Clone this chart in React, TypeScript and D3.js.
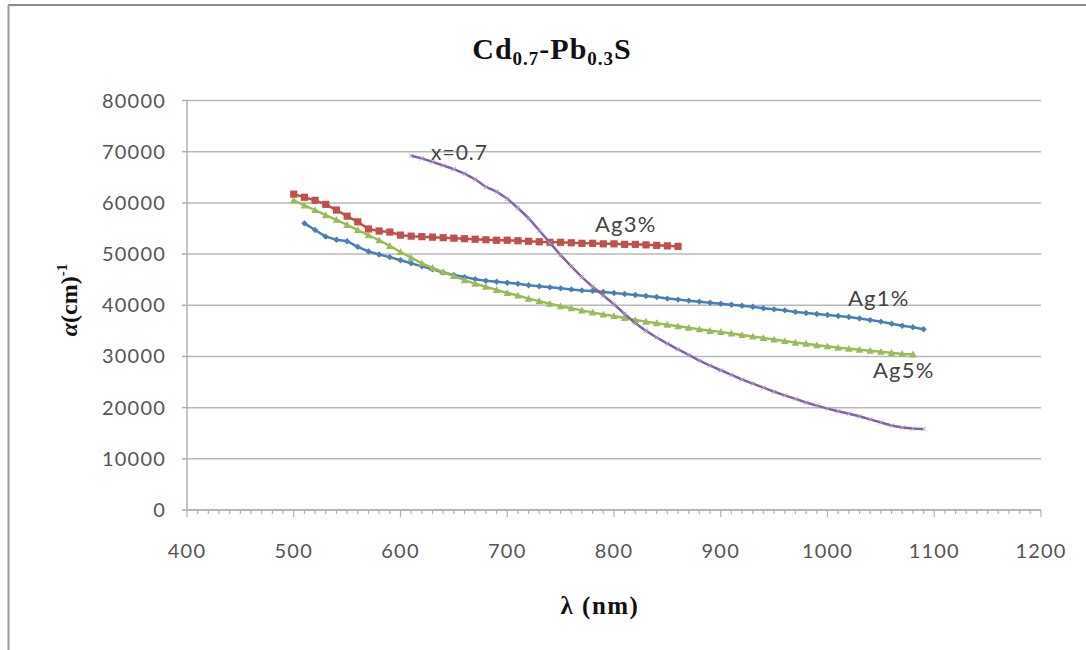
import React from "react";
import * as d3 from "d3";

const W = 1086;
const H = 650;

const ag1Lambda = [510,520,530,540,550,560,570,580,590,600,610,620,630,640,650,660,670,680,690,700,710,720,730,740,750,760,770,780,790,800,810,820,830,840,850,860,870,880,890,900,910,920,930,940,950,960,970,980,990,1000,1010,1020,1030,1040,1050,1060,1070,1080,1090];
const ag1Alpha = [56000,54700,53400,52800,52500,51400,50500,49900,49400,48800,48200,47600,47000,46400,45900,45500,45100,44800,44600,44400,44200,43900,43700,43500,43300,43100,42900,42800,42600,42400,42200,42000,41800,41600,41300,41100,40900,40700,40500,40300,40100,39900,39700,39400,39200,39000,38700,38500,38300,38100,37900,37700,37400,37100,36800,36400,36000,35700,35300];

const ag3Lambda = [500,510,520,530,540,550,560,570,580,590,600,610,620,630,640,650,660,670,680,690,700,710,720,730,740,750,760,770,780,790,800,810,820,830,840,850,860];
const ag3Alpha = [61700,61100,60500,59700,58600,57400,56300,54900,54500,54300,53700,53500,53400,53300,53200,53100,53000,52900,52800,52700,52700,52600,52500,52400,52300,52300,52200,52100,52100,52000,52000,51900,51900,51800,51700,51600,51500];

const ag5Lambda = [500,510,520,530,540,550,560,570,580,590,600,610,620,630,640,650,660,670,680,690,700,710,720,730,740,750,760,770,780,790,800,810,820,830,840,850,860,870,880,890,900,910,920,930,940,950,960,970,980,990,1000,1010,1020,1030,1040,1050,1060,1070,1080];
const ag5Alpha = [60500,59500,58600,57600,56700,55700,54700,53700,52700,51600,50400,49300,48200,47300,46500,45700,44900,44200,43600,43000,42400,41900,41300,40800,40300,39800,39400,39000,38600,38200,37900,37500,37100,36800,36500,36200,35900,35600,35300,35000,34800,34500,34200,33900,33600,33300,33000,32700,32500,32200,32000,31700,31500,31300,31100,30900,30700,30500,30400];

const x07Lambda = [610,620,630,640,650,660,670,680,690,700,710,720,730,740,750,760,770,780,790,800,810,820,830,840,850,860,870,880,890,900,910,920,930,940,950,960,970,980,990,1000,1010,1020,1030,1040,1050,1060,1070,1080,1090];
const x07Alpha = [69200,68700,68000,67300,66600,65700,64600,63100,62200,60800,59000,57000,54600,52200,49800,47600,45500,43600,41900,40200,38300,36500,35000,33700,32500,31400,30300,29200,28200,27300,26400,25500,24700,23900,23100,22400,21700,21000,20400,19800,19300,18800,18300,17700,17100,16500,16100,15900,15800];

const xTicks = [400,500,600,700,800,900,1000,1100,1200];
const yTicks = [0,10000,20000,30000,40000,50000,60000,70000,80000];

type Series = { name: string; lambda: number[]; alpha: number[]; color: string; marker: string };
const series: Series[] = [
  { name: "Ag1%", lambda: ag1Lambda, alpha: ag1Alpha, color: "#4a7ebb", marker: "diamond" },
  { name: "Ag3%", lambda: ag3Lambda, alpha: ag3Alpha, color: "#c0504d", marker: "square" },
  { name: "Ag5%", lambda: ag5Lambda, alpha: ag5Alpha, color: "#9bbb59", marker: "triangle" },
  { name: "x=0.7", lambda: x07Lambda, alpha: x07Alpha, color: "#8064a2", marker: "x" },
];

const left = 187, right = 1041, top = 100.5, bottom = 510;

export default function App() {
  const x = d3.scaleLinear().domain([400, 1200]).range([left, right]);
  const y = d3.scaleLinear().domain([0, 80000]).range([bottom, top]);
  const line = d3.line<[number, number]>().x(d => x(d[0])).y(d => y(d[1]));
  const minor = d3.range(400, 1201, 10);
  const tickFont = "Lato, 'Open Sans', sans-serif";
  const serif = "'Liberation Serif', 'DejaVu Serif', serif";

  const marker = (s: Series, cx: number, cy: number, k: number) => {
    if (s.marker === "diamond") {
      const r = 3.2;
      return <path key={k} d={`M${cx},${cy - r}L${cx + r},${cy}L${cx},${cy + r}L${cx - r},${cy}Z`} fill={s.color} />;
    }
    if (s.marker === "square") {
      const r = 3.6;
      return <rect key={k} x={cx - r} y={cy - r} width={2 * r} height={2 * r} fill={s.color} />;
    }
    if (s.marker === "triangle") {
      const r = 3.8;
      return <path key={k} d={`M${cx},${cy - r}L${cx + r},${cy + r * 0.8}L${cx - r},${cy + r * 0.8}Z`} fill={s.color} />;
    }
    const r = 2.2;
    return <path key={k} d={`M${cx - r},${cy - r}L${cx + r},${cy + r}M${cx + r},${cy - r}L${cx - r},${cy + r}`} stroke="#b49fd0" strokeWidth={1} />;
  };

  return (
    <svg width={W} height={H} style={{ position: "absolute", left: 0, top: 0, background: "#fff" }}>
      <rect x={0} y={0} width={W} height={H} fill="#fff" />
      {/* frame */}
      <line x1={8} y1={5} x2={W} y2={5} stroke="#8a8a8a" strokeWidth={2} />
      <line x1={8.5} y1={5} x2={8.5} y2={H} stroke="#9a9a9a" strokeWidth={2} />

      {/* title */}
      <text x={552} y={59} textAnchor="middle" fontFamily={serif} fontWeight="bold" fontSize={30} letterSpacing={1} fill="#111">
        Cd<tspan fontSize={19} dy={6}>0.7</tspan><tspan dy={-6}>-Pb</tspan><tspan fontSize={19} dy={6}>0.3</tspan><tspan dy={-6}>S</tspan>
      </text>

      {/* grid */}
      {yTicks.map(t => (
        <line key={"g" + t} x1={left} x2={right} y1={y(t)} y2={y(t)} stroke="#b8b8b8" strokeWidth={1.5} />
      ))}
      {/* left axis */}
      <line x1={left} x2={left} y1={top} y2={bottom} stroke="#b0b0b0" strokeWidth={1.5} />
      {yTicks.map(t => (
        <line key={"yt" + t} x1={left - 5} x2={left} y1={y(t)} y2={y(t)} stroke="#b0b0b0" strokeWidth={1.5} />
      ))}
      {yTicks.map(t => (
        <text key={"yl" + t} x={166} y={y(t) + 7} textAnchor="end" fontFamily={tickFont} fontSize={20} letterSpacing={1.2} fill="#555">{t}</text>
      ))}
      {/* bottom axis */}
      <line x1={left} x2={right} y1={bottom} y2={bottom} stroke="#b0b0b0" strokeWidth={1.5} />
      {minor.map(t => (
        <line key={"mt" + t} x1={x(t)} x2={x(t)} y1={bottom} y2={bottom + (t % 100 === 0 ? 7 : 4)} stroke="#b0b0b0" strokeWidth={1.2} />
      ))}
      {xTicks.map(t => (
        <text key={"xl" + t} x={x(t)} y={558} textAnchor="middle" fontFamily={tickFont} fontSize={20} letterSpacing={1.2} fill="#555">{t}</text>
      ))}

      {/* series */}
      {series.map(s => {
        const pts: [number, number][] = s.lambda.map((l, i) => [l, s.alpha[i]]);
        return (
          <g key={s.name}>
            <path d={line(pts) || ""} fill="none" stroke={s.color} strokeWidth={2.5} />
            {pts.map((p, i) => marker(s, x(p[0]), y(p[1]), i))}
          </g>
        );
      })}

      {/* data labels */}
      <text x={431} y={160} fontFamily={tickFont} fontSize={21} letterSpacing={1} fill="#444">x=0.7</text>
      <text x={595} y={232} fontFamily={tickFont} fontSize={22} letterSpacing={1.2} fill="#444">Ag3%</text>
      <text x={848} y={306} fontFamily={tickFont} fontSize={22} letterSpacing={1.2} fill="#444">Ag1%</text>
      <text x={873} y={378} fontFamily={tickFont} fontSize={22} letterSpacing={1.2} fill="#444">Ag5%</text>

      {/* axis titles */}
      <text x={600} y={614} textAnchor="middle" fontFamily={serif} fontWeight="bold" fontSize={25} letterSpacing={1.5} fill="#111">λ (nm)</text>
      <text transform="translate(77,300) rotate(-90)" textAnchor="middle" fontFamily={serif} fontWeight="bold" fontSize={24} fill="#111">
        <tspan fontStyle="italic">α</tspan>(cm)<tspan fontSize={15} dy={-10}>-1</tspan>
      </text>
    </svg>
  );
}
